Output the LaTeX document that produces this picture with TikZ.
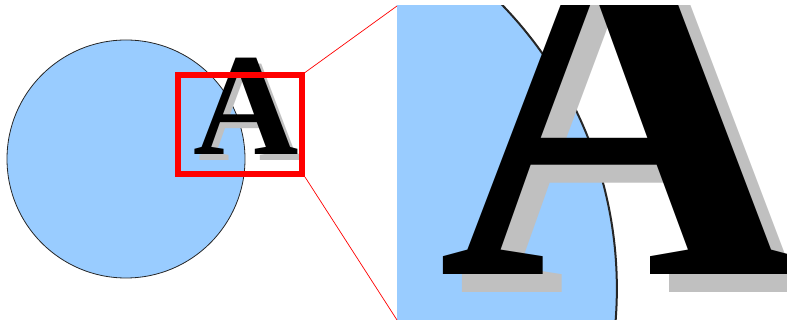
\documentclass[tikz,border=0pt]{standalone}
\usepackage{fontspec}
\usepackage{xcolor}
\newfontfamily\glyphfont{Liberation Serif}
\definecolor{discblue}{HTML}{99CCFF}
\definecolor{shadowgray}{HTML}{C0C0C0}

% disc + shadowed letter, drawn once plain and once magnified
\newcommand{\drawmotif}[1]{%
  \draw[disc, line width=#1] (126,159) circle [radius=119];
  \node[glyph, text=shadowgray] (shadowA) at (198.3,160.2) {A};
  \node[glyph] (letterA) at (192.8,155) {A};
}

\begin{document}
\begin{tikzpicture}[
    x=1pt, y=-1pt,
    disc/.style={fill=discblue, draw=black!85},
    glyph/.style={font=\glyphfont\bfseries\fontsize{146}{146}\selectfont, inner sep=0, anchor=base west, text=black},
    zoomframe/.style={rectangle, draw=red, line width=6pt, inner sep=0, minimum width=124pt, minimum height=98.5pt},
    zoomray/.style={red, line width=0.7pt}
]
\useasboundingbox (0,0) rectangle (787,320);

% -- ORIGINAL VIEW --
\drawmotif{0.8pt}
\node[zoomframe] (zoombox) at (240,124.75) {};

% -- MAGNIFIED VIEW --
\coordinate (panelnw) at (397,6);
\coordinate (panelsw) at (397,320);
\begin{scope}
  \clip (panelnw) rectangle (787,320);
  \begin{scope}[shift={(397,6)}, scale=3.43, shift={(-180.9,-76.6)}, transform shape]
    \drawmotif{2pt}
  \end{scope}
\end{scope}

\draw[zoomray] (zoombox.north east) -- (panelnw);
\draw[zoomray] (zoombox.south east) -- (panelsw);

\end{tikzpicture}
\end{document}
